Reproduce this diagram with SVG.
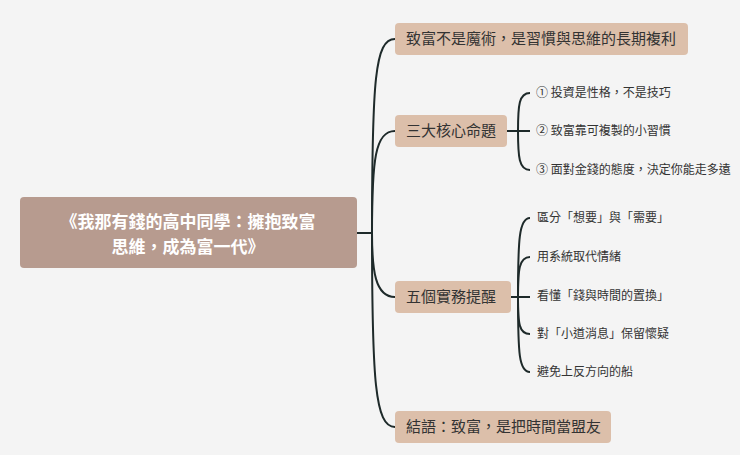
<svg xmlns="http://www.w3.org/2000/svg" width="740" height="455" viewBox="0 0 740 455">
<style>
.c{fill:none;stroke:#1e2a2a;stroke-width:2}
.b{fill:#dcbfaa}
.t{font-family:"Noto Sans CJK TC","Noto Sans CJK SC",sans-serif;fill:#333}
.bt{font-size:15px}
.lt{font-size:12px}
</style>
<rect width="740" height="455" fill="#f4f4f4"/>
<g id="connectors">
<path class="c" d="M357 233 H372"/>
<path class="c" d="M372 233 C372 80 375 39 395 39"/>
<path class="c" d="M372 233 C372 160 375 131 395 131"/>
<path class="c" d="M372 233 C372 270 375 297 395 297"/>
<path class="c" d="M372 233 C372 380 375 427 395 427"/>
<path class="c" d="M507 131 H530"/>
<path class="c" d="M530 93 C519 93 518 105 518 131 C518 157 519 170 530 170"/>
<path class="c" d="M511 297 H530"/>
<path class="c" d="M530 218 C519 218 518 240 518 297 C518 354 519 372 530 372"/>
<path class="c" d="M530 257 C519 257 518 270 518 297 C518 324 519 334 530 334"/>
</g>
<g id="root"><rect x="20" y="197" width="337" height="71" rx="4" fill="#b79b8f"/>
<text class="t" x="188" y="228" text-anchor="middle" font-size="17" font-weight="bold" fill="#fff" style="fill:#fff">《我那有錢的高中同學：擁抱致富</text>
<text class="t" x="188" y="253" text-anchor="middle" font-size="17" font-weight="bold" style="fill:#fff">思維，成為富一代》</text></g>
<g id="n1"><rect class="b" x="395" y="23" width="293" height="32" rx="4"/><text class="t bt" x="406" y="44">致富不是魔術，是習慣與思維的長期複利</text></g>
<g id="n2"><rect class="b" x="395" y="115" width="112" height="32" rx="4"/><text class="t bt" x="406" y="136">三大核心命題</text></g>
<g id="n3"><rect class="b" x="395" y="281" width="116" height="32" rx="4"/><text class="t bt" x="406" y="302">五個實務提醒</text></g>
<g id="n4"><rect class="b" x="395" y="411" width="216" height="32" rx="4"/><text class="t bt" x="406" y="432">結語：致富，是把時間當盟友</text></g>
<g id="leaves">
<text class="t lt" x="536" y="97">① 投資是性格，不是技巧</text>
<text class="t lt" x="536" y="135">② 致富靠可複製的小習慣</text>
<text class="t lt" x="536" y="174">③ 面對金錢的態度，決定你能走多遠</text>
<text class="t lt" x="537" y="222">區分「想要」與「需要」</text>
<text class="t lt" x="537" y="261">用系統取代情緒</text>
<text class="t lt" x="537" y="300">看懂「錢與時間的置換」</text>
<text class="t lt" x="537" y="338">對「小道消息」保留懷疑</text>
<text class="t lt" x="537" y="376">避免上反方向的船</text>
</g>
</svg>
